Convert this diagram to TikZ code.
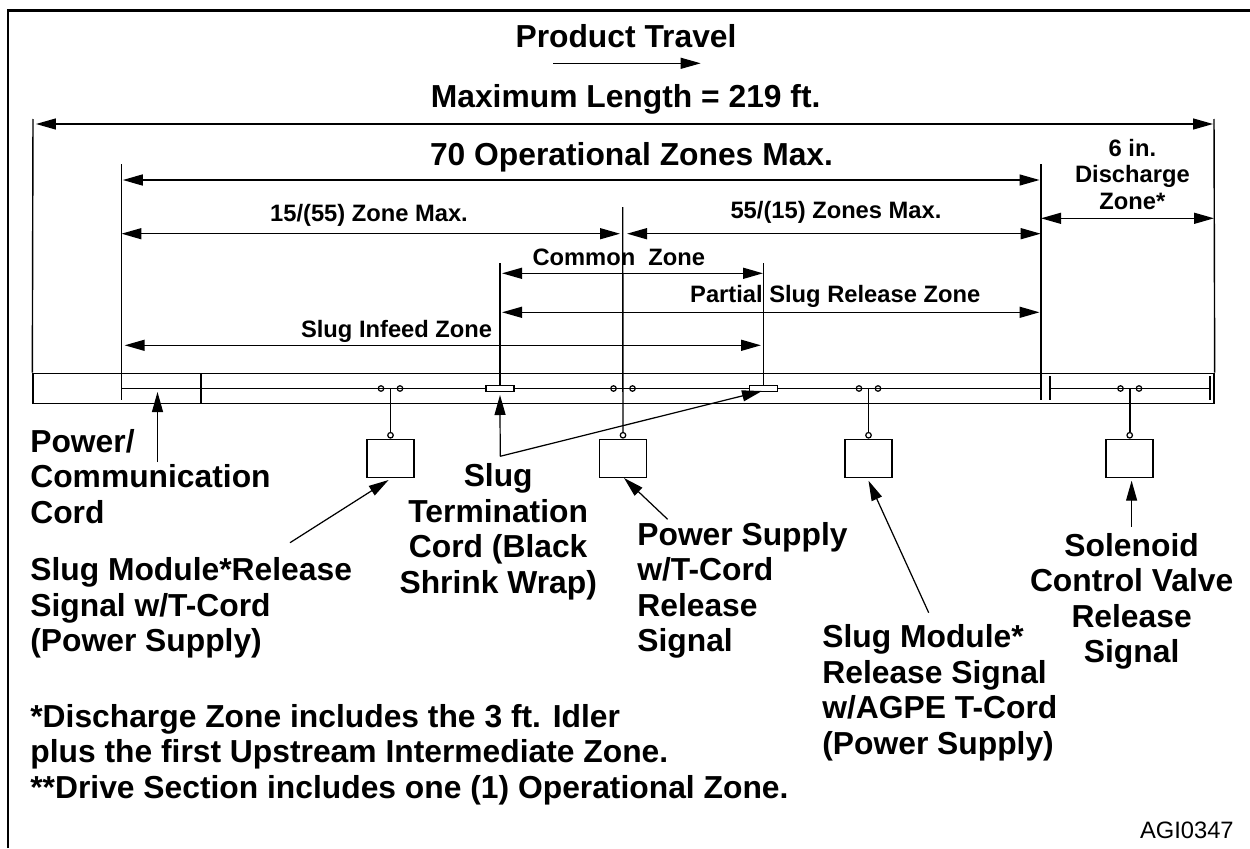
\documentclass[tikz,border=0pt]{standalone}
\usepackage{fontspec}
\setmainfont{Liberation Sans}
\usetikzlibrary{arrows.meta, positioning}
\tikzset{
    bigtip/.tip={Triangle[length=0.4cm, width=0.22cm]},
    dimline/.style={line width=0.8pt, {bigtip}-{bigtip}},
    leader/.style={line width=0.7pt, -{bigtip}},
    extline/.style={line width=0.8pt},
    wire/.style={line width=0.9pt},
    modulebox/.style={draw, line width=1pt, fill=white, minimum width=0.94cm, minimum height=0.76cm, inner sep=0pt},
    wrapbox/.style={draw, line width=0.8pt, fill=white, minimum width=0.56cm, minimum height=0.11cm, inner sep=0pt},
    contact/.style={draw, circle, line width=0.7pt, minimum size=0.11cm, inner sep=0pt},
    biglabel/.style={font=\fontsize{18.1}{18}\selectfont\bfseries, inner sep=0pt, anchor=base},
    smalllabel/.style={font=\fontsize{13.5}{14.85}\selectfont\bfseries, inner sep=0pt, anchor=base},
    noteline/.style={font=\fontsize{18.1}{20.2}\selectfont\bfseries, inner sep=0pt, align=left},
}
\begin{document}
\begin{tikzpicture}[x=0.02cm, y=-0.02cm]
    \useasboundingbox (0,0) rectangle (1250,848);
    % Frame
    \draw[line width=1.7pt] (8,848) -- (8,10.7) -- (1250,10.7);

    % Band
    \node[draw, line width=0.9pt, minimum width=23.62cm, minimum height=0.6cm, inner sep=0pt] (band) at (623.5,388.5) {};
    \coordinate (cordL) at (121.5,388.5);
    \coordinate (cordM) at (1041,388.5);
    \coordinate (cordN) at (1050,388.5);
    \coordinate (cordR) at (1210,388.5);
    \draw[wire] (cordL) -- (cordM);
    \draw[wire] (cordN) -- (cordR);
    \draw[wire] (201,373.5) -- (201,403.5);
    \draw[wire] (1050,376) -- (1050,400);
    \draw[wire] (1210,376) -- (1210,400);

    % Extension lines
    \coordinate (extAtop) at (33,119);
    \coordinate (extBtop) at (121.5,164);
    \coordinate (extBbot) at (121.5,400);
    \coordinate (extCtop) at (500,263);
    \coordinate (extCbot) at (500,386);
    \coordinate (extDtop) at (622.7,207);
    \coordinate (extEtop) at (763.5,263);
    \coordinate (extEbot) at (763.5,386);
    \coordinate (extFtop) at (1041,164);
    \coordinate (extFbot) at (1041,400);
    \coordinate (extGtop) at (1214,119);
    \draw[extline] (extAtop) -- (band.north west);
    \draw[extline] (extBtop) -- (extBbot);
    \draw[extline] (extCtop) -- (extCbot);
    \draw[extline] (extEtop) -- (extEbot);
    \draw[extline] (extFtop) -- (extFbot);
    \draw[extline] (extGtop) -- (band.north east);

    % Modules
    \node[modulebox] (modA) at (390.5,458.5) {};
    \node[modulebox] (modB) at (623,458.5) {};
    \node[modulebox] (modC) at (868.5,458.5) {};
    \node[modulebox] (modD) at (1129.7,458.5) {};
    \node[contact, fill=white, above=0pt of modA] (capA) {};
    \node[contact, fill=white, above=0pt of modB] (capB) {};
    \node[contact, fill=white, above=0pt of modC] (capC) {};
    \node[contact, fill=white, above=0pt of modD] (capD) {};
    \coordinate (tapA) at (390.5,388.5);
    \coordinate (tapC) at (868.5,388.5);
    \coordinate (tapD) at (1129.7,388.5);
    \draw[wire] (tapA) -- (capA);
    \draw[extline] (extDtop) -- (capB);
    \draw[wire] (tapC) -- (capC);
    \draw[wire] (tapD) -- (capD);

    % Contacts
    \node[contact] (conA1) at (381,388.5) {};
    \node[contact] (conA2) at (400,388.5) {};
    \node[contact] (conB1) at (613.5,388.5) {};
    \node[contact] (conB2) at (632.5,388.5) {};
    \node[contact] (conC1) at (859,388.5) {};
    \node[contact] (conC2) at (878,388.5) {};
    \node[contact] (conD1) at (1120.5,388.5) {};
    \node[contact] (conD2) at (1139,388.5) {};

    % Shrink wrap
    \node[wrapbox] (wrapA) at (500,388.5) {};
    \node[wrapbox] (wrapB) at (763.5,388.5) {};

    % Dimensions
    \coordinate (travelL) at (553,63.3);
    \coordinate (travelR) at (700.7,63.3);
    \draw[line width=0.6pt, -{bigtip}] (travelL) -- (travelR);
    \draw[dimline] (36,124) -- (1213,124);
    \draw[dimline] (122.8,180) -- (1039.5,180);
    \draw[dimline] (121.5,233.7) -- (620,233.7);
    \draw[dimline] (627,233.7) -- (1040.7,233.7);
    \draw[dimline] (1041,218.3) -- (1214,218.3);
    \draw[dimline] (502,273.3) -- (763,273.3);
    \draw[dimline] (502,312.3) -- (1039.5,312.3);
    \draw[dimline] (124.7,345.3) -- (761,345.3);

    % Dimension labels
    \node[biglabel] (travelText) at (626,47.7) {Product Travel};
    \node[biglabel] (lengthText) at (625.7,107.3) {Maximum Length = 219 ft.};
    \node[biglabel] (zonesText) at (631.5,165) {70 Operational Zones Max.};
    \node[smalllabel] (leftText) at (369,221) {15/(55) Zone Max.};
    \node[smalllabel] (rightText) at (836,218.3) {55/(15) Zones Max.};
    \node[smalllabel] (commonText) at (618.8,265.7) {Common\ \ Zone};
    \node[smalllabel] (partialText) at (835.2,302.7) {Partial Slug Release Zone};
    \node[smalllabel] (infeedText) at (396.6,337.7) {Slug Infeed Zone};
    \node[smalllabel, align=center] (dischargeText) at (1132.4,209) {6 in.\\Discharge\\Zone*};

    % Part labels
    \node[noteline, anchor=base west] (cordText) at (30,523.3) {Power/\\Communication\\Cord};
    \node[noteline, anchor=base west] (slugAText) at (30,651.7) {Slug Module*Release\\Signal w/T-Cord\\(Power Supply)};
    \node[noteline, align=center, anchor=base] (wrapText) at (498.2,593.3) {Slug\\Termination\\Cord (Black\\Shrink Wrap)};
    \node[noteline, anchor=base west] (supplyText) at (637,651.7) {Power Supply\\w/T-Cord\\Release\\Signal};
    \node[noteline, anchor=base west] (slugCText) at (822,754.3) {Slug Module*\\Release Signal\\w/AGPE T-Cord\\(Power Supply)};
    \node[noteline, align=center, anchor=base] (valveText) at (1131.6,662.7) {Solenoid\\Control Valve\\Release\\Signal};
    \node[noteline, anchor=base west] (noteText) at (30,798.3) {*Discharge Zone includes the 3 ft. Idler\\plus the first Upstream Intermediate Zone.\\**Drive Section includes one (1) Operational Zone.};
    \node[font=\fontsize{13.5}{14}\selectfont, inner sep=0pt, anchor=base east] (figText) at (1234,838) {AGI0347};

    % Leaders
    \coordinate (footA) at (157.5,462);
    \coordinate (headA) at (157.5,392);
    \coordinate (footB) at (290,542.7);
    \coordinate (headB) at (388.6,480);
    \coordinate (bend) at (500.2,456.3);
    \coordinate (headC) at (500,395);
    \coordinate (headD) at (762,391);
    \coordinate (footE) at (667.6,519.3);
    \coordinate (headE) at (624,478);
    \coordinate (footF) at (928.7,612.7);
    \coordinate (headF) at (868.5,480.7);
    \coordinate (footG) at (1131.6,526.7);
    \coordinate (headG) at (1131.6,480.7);
    \draw[leader] (footA) -- (headA);
    \draw[leader] (footB) -- (headB);
    \draw[leader] (bend) -- (headC);
    \draw[leader] (bend) -- (headD);
    \draw[leader] (footE) -- (headE);
    \draw[leader] (footF) -- (headF);
    \draw[leader] (footG) -- (headG);
\end{tikzpicture}
\end{document}
